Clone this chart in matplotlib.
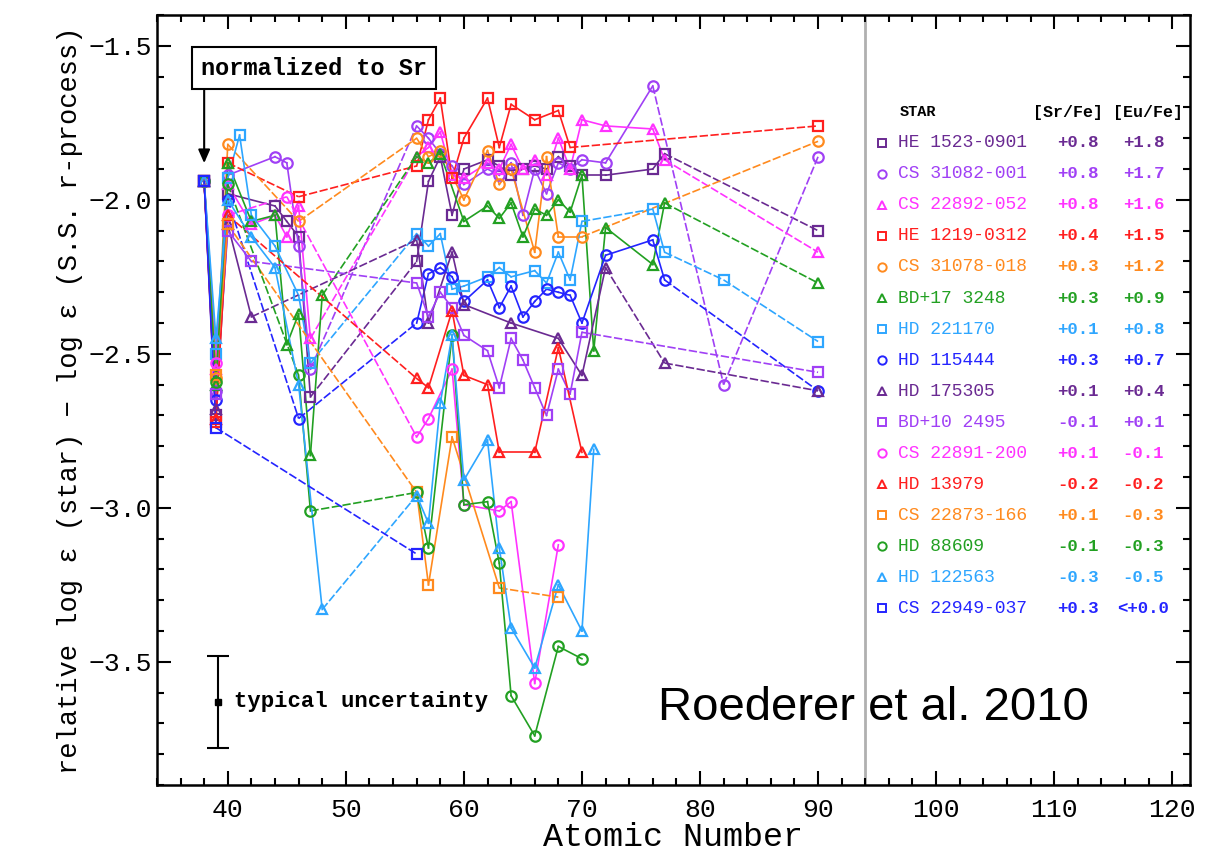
import matplotlib
matplotlib.use("Agg")
import matplotlib.pyplot as plt
from matplotlib.ticker import MultipleLocator

plt.rcParams['font.family'] = ['Liberation Mono', 'DejaVu Sans Mono']

# legend table
stars = ['HE 1523-0901', 'CS 31082-001', 'CS 22892-052', 'HE 1219-0312',
         'CS 31078-018', 'BD+17 3248', 'HD 221170', 'HD 115444',
         'HD 175305', 'BD+10 2495', 'CS 22891-200', 'HD 13979',
         'CS 22873-166', 'HD 88609', 'HD 122563', 'CS 22949-037']
sr_fe = ['+0.8', '+0.8', '+0.8', '+0.4', '+0.3', '+0.3', '+0.1', '+0.3',
         '+0.1', '-0.1', '+0.1', '-0.2', '+0.1', '-0.1', '-0.3', '+0.3']
eu_fe = ['+1.8', '+1.7', '+1.6', '+1.5', '+1.2', '+0.9', '+0.8', '+0.7',
         '+0.4', '+0.1', '-0.1', '-0.2', '-0.3', '-0.3', '-0.5', '<+0.0']

# atomic number / relative log eps per star
z_he1523 = [38, 39, 40, 44, 45, 46, 47, 56, 57, 58, 59, 60, 62, 63, 64, 65, 66, 67, 68, 69, 70, 72, 76, 77, 90]
y_he1523 = [-1.94, -2.70, -1.98, -2.02, -2.07, -2.12, -2.64, -2.20, -1.94, -1.86, -2.05, -1.90, -1.87, -1.89,
            -1.92, -1.90, -1.89, -1.90, -1.86, -1.89, -1.92, -1.92, -1.90, -1.85, -2.10]
z_cs31082 = [38, 39, 40, 44, 45, 46, 47, 56, 57, 58, 59, 60, 62, 63, 64, 65, 66, 67, 68, 69, 70, 72, 76, 82, 90]
y_cs31082 = [-1.94, -2.62, -1.92, -1.86, -1.88, -2.15, -2.55, -1.76, -1.80, -1.85, -1.89, -1.95, -1.90, -1.92,
             -1.88, -2.05, -1.90, -1.98, -1.88, -1.90, -1.87, -1.88, -1.63, -2.60, -1.86]
z_cs22892 = [38, 39, 40, 42, 44, 45, 46, 47, 56, 57, 58, 59, 60, 62, 63, 64, 65, 66, 67, 68, 69, 70, 72, 76, 77, 90]
y_cs22892 = [-1.94, -2.55, -1.95, -2.08, -2.05, -2.12, -2.02, -2.45, -1.86, -1.83, -1.78, -1.92, -1.93, -1.88,
             -1.90, -1.82, -1.90, -1.87, -1.92, -1.80, -1.90, -1.74, -1.76, -1.77, -1.87, -2.17]
z_he1219 = [38, 39, 40, 46, 56, 57, 58, 59, 60, 62, 63, 64, 66, 68, 69, 90]
y_he1219 = [-1.94, -2.72, -1.88, -1.99, -1.89, -1.74, -1.67, -1.93, -1.80, -1.67, -1.83, -1.69, -1.74, -1.71,
            -1.83, -1.76]
z_cs31078 = [38, 39, 40, 46, 56, 57, 58, 60, 62, 63, 64, 66, 67, 68, 70, 90]
y_cs31078 = [-1.94, -2.58, -1.82, -2.07, -1.80, -1.86, -1.84, -2.00, -1.84, -1.95, -1.90, -2.17, -1.86, -2.12,
             -2.12, -1.81]
z_bd17 = [38, 39, 40, 42, 44, 45, 46, 47, 48, 56, 57, 58, 60, 62, 63, 64, 65, 66, 67, 68, 69, 70, 71, 72, 76, 77, 90]
y_bd17 = [-1.94, -2.60, -1.88, -2.07, -2.05, -2.47, -2.37, -2.83, -2.31, -1.86, -1.88, -1.85, -2.07, -2.02,
          -2.06, -2.01, -2.12, -2.03, -2.05, -2.00, -2.04, -1.92, -2.49, -2.09, -2.21, -2.01, -2.27]
z_hd221170 = [38, 39, 40, 41, 42, 44, 46, 47, 56, 57, 58, 59, 60, 62, 63, 64, 66, 67, 68, 69, 70, 76, 77, 82, 90]
y_hd221170 = [-1.94, -2.50, -1.93, -1.79, -2.05, -2.15, -2.31, -2.53, -2.11, -2.15, -2.11, -2.29, -2.28, -2.25,
              -2.22, -2.25, -2.23, -2.27, -2.17, -2.26, -2.07, -2.03, -2.17, -2.26, -2.46]
z_hd115444 = [38, 39, 40, 46, 56, 57, 58, 59, 60, 62, 63, 64, 65, 66, 67, 68, 69, 70, 72, 76, 77, 90]
y_hd115444 = [-1.94, -2.65, -2.00, -2.71, -2.40, -2.24, -2.22, -2.25, -2.33, -2.26, -2.35, -2.28, -2.38, -2.33,
              -2.29, -2.30, -2.31, -2.40, -2.18, -2.13, -2.26, -2.62]
z_hd175305 = [38, 39, 40, 42, 56, 57, 59, 60, 64, 68, 70, 72, 77, 90]
y_hd175305 = [-1.94, -2.68, -2.08, -2.38, -2.13, -2.40, -2.17, -2.34, -2.40, -2.45, -2.57, -2.22, -2.53, -2.62]
z_bd10 = [38, 39, 40, 42, 56, 57, 58, 59, 60, 62, 63, 64, 65, 66, 67, 68, 69, 70, 90]
y_bd10 = [-1.94, -2.63, -2.10, -2.20, -2.27, -2.38, -2.30, -2.35, -2.44, -2.49, -2.61, -2.45, -2.52, -2.61,
          -2.70, -2.55, -2.63, -2.43, -2.56]
z_cs22891 = [38, 39, 40, 45, 56, 57, 59, 60, 63, 64, 66, 68]
y_cs22891 = [-1.94, -2.53, -2.05, -1.99, -2.77, -2.71, -2.55, -2.99, -3.01, -2.98, -3.57, -3.12]
z_hd13979 = [38, 39, 40, 56, 57, 59, 60, 62, 63, 66, 68, 70]
y_hd13979 = [-1.94, -2.71, -2.05, -2.58, -2.61, -2.36, -2.57, -2.60, -2.82, -2.82, -2.48, -2.82]
z_cs22873 = [38, 39, 40, 56, 57, 59, 63, 68]
y_cs22873 = [-1.94, -2.57, -2.08, -2.95, -3.25, -2.77, -3.26, -3.29]
z_hd88609 = [38, 39, 40, 46, 47, 56, 57, 59, 60, 62, 63, 64, 66, 68, 70]
y_hd88609 = [-1.94, -2.59, -1.95, -2.57, -3.01, -2.95, -3.13, -2.44, -2.99, -2.98, -3.18, -3.61, -3.74, -3.45,
             -3.49]
z_hd122563 = [38, 39, 40, 42, 44, 46, 48, 56, 57, 58, 59, 60, 62, 63, 64, 66, 68, 70, 71]
y_hd122563 = [-1.94, -2.45, -2.00, -2.12, -2.22, -2.60, -3.33, -2.96, -3.05, -2.66, -2.44, -2.91, -2.78, -3.13,
              -3.39, -3.52, -3.25, -3.40, -2.81]
z_cs22949 = [38, 39, 56]
y_cs22949 = [-1.94, -2.74, -3.15]

dkpur, viol, mag, red = '#6a2a92', '#a040f5', '#ff33ff', '#ff1f1f'
ora, grn, lblu, blu = '#ff8a1e', '#22a022', '#2ea6ff', '#2424ff'
colors = [dkpur, viol, mag, red, ora, grn, lblu, blu,
          dkpur, viol, mag, red, ora, grn, lblu, blu]
markers = ['s', 'o', '^', 's', 'o', '^', 's', 'o',
           '^', 's', 'o', '^', 's', 'o', '^', 's']

series = [(z_he1523, y_he1523), (z_cs31082, y_cs31082), (z_cs22892, y_cs22892),
          (z_he1219, y_he1219), (z_cs31078, y_cs31078), (z_bd17, y_bd17),
          (z_hd221170, y_hd221170), (z_hd115444, y_hd115444), (z_hd175305, y_hd175305),
          (z_bd10, y_bd10), (z_cs22891, y_cs22891), (z_hd13979, y_hd13979),
          (z_cs22873, y_cs22873), (z_hd88609, y_hd88609), (z_hd122563, y_hd122563),
          (z_cs22949, y_cs22949)]

fig = plt.figure(figsize=(12.11, 8.59), dpi=100)
ax = fig.add_axes([0.1296, 0.0861, 0.853, 0.8964])

for (zz, yy), c, m in zip(series, colors, markers):
    for i in range(len(zz) - 1):
        ls = (0, (5, 1.5)) if zz[i + 1] - zz[i] >= 5 else '-'
        ax.plot(zz[i:i + 2], yy[i:i + 2], color=c, lw=1.2, ls=ls, zorder=2)
    ax.plot(zz, yy, ls='none', marker=m, ms=7.5, mfc='none', mec=c, mew=1.6, zorder=3)

ax.axvline(94, color='#b0b0b0', lw=2, zorder=1)

ax.set_xlim(34, 121.5)
ax.set_ylim(-3.9, -1.4)
ax.xaxis.set_major_locator(MultipleLocator(10))
ax.xaxis.set_minor_locator(MultipleLocator(2))
ax.yaxis.set_major_locator(MultipleLocator(0.5))
ax.yaxis.set_minor_locator(MultipleLocator(0.1))
ax.tick_params(which='both', direction='in', top=True, right=True, width=1.5, labelsize=19)
ax.tick_params(axis='x', which='major', pad=9)
ax.tick_params(which='major', length=10)
ax.tick_params(which='minor', length=5)
for s in ax.spines.values():
    s.set_linewidth(1.8)

ax.set_xlabel('Atomic Number', fontsize=24, labelpad=0)
ax.set_ylabel('relative log \u03b5 (star) \u2212 log \u03b5 (S.S. r-process)', fontsize=19.5, labelpad=4)

# normalized to Sr box + arrow
ax.text(47.3, -1.572, 'normalized to Sr', fontsize=17, fontweight='bold', ha='center', va='center',
        bbox=dict(boxstyle='square,pad=0.4', fc='white', ec='k', lw=1.5))
ax.annotate('', xy=(38, -1.89), xytext=(38, -1.635),
            arrowprops=dict(arrowstyle='-|>,head_width=0.35,head_length=0.8', color='k', lw=1.5))

# typical uncertainty
ax.errorbar([39.2], [-3.63], yerr=[0.15], fmt='s', ms=4, color='k', capsize=8, lw=1.5, capthick=1.5)
ax.text(40.5, -3.63, 'typical uncertainty', fontsize=16, fontweight='bold', va='center')

ax.text(0.485, 0.1, 'Roederer et al. 2010', transform=ax.transAxes, fontsize=34,
        family='Liberation Sans', va='center')

# star table
x_mk, x_nm, x_sr, x_eu = 0.702, 0.717, 0.892, 0.955
ax.text(0.719, 0.874, 'STAR', transform=ax.transAxes, fontsize=11, fontweight='bold', va='center')
ax.text(0.993, 0.874, '[Sr/Fe] [Eu/Fe]', transform=ax.transAxes, fontsize=12, fontweight='bold',
        va='center', ha='right')
for i in range(len(stars)):
    yy = 0.834 - 0.0403 * i
    ax.plot([x_mk], [yy], transform=ax.transAxes, marker=markers[i], ms=6, mfc='none',
            mec=colors[i], mew=1.4, ls='none', clip_on=False)
    ax.text(x_nm, yy, stars[i], transform=ax.transAxes, color=colors[i], fontsize=13, va='center')
    ax.text(x_sr, yy, sr_fe[i], transform=ax.transAxes, color=colors[i], fontsize=12.5, va='center',
            ha='center', fontweight='bold')
    ax.text(x_eu, yy, eu_fe[i], transform=ax.transAxes, color=colors[i], fontsize=12.5, va='center',
            ha='center', fontweight='bold')

fig.savefig('out.png', dpi=100)
